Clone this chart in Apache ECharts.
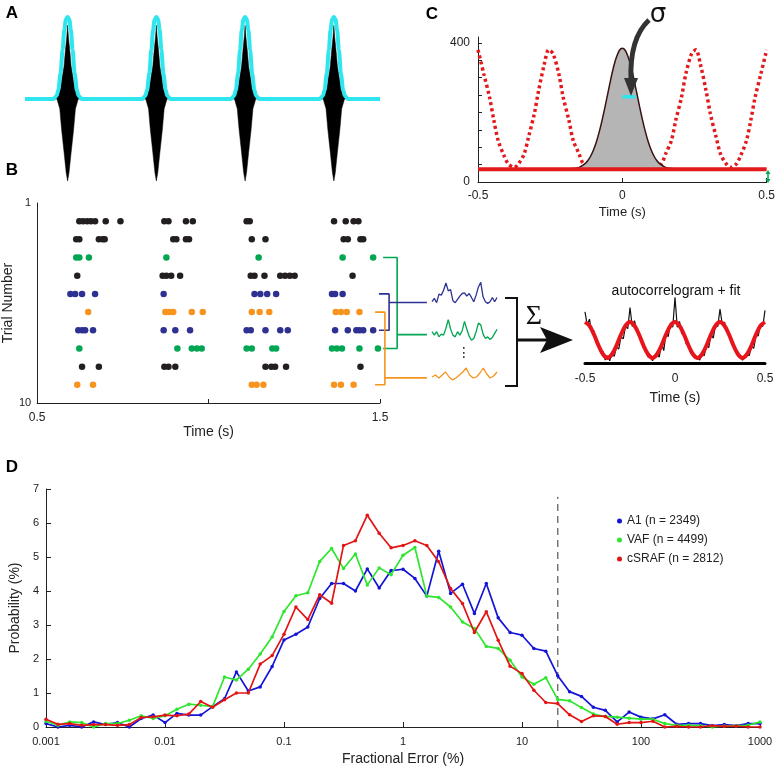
<!DOCTYPE html>
<html lang="en">
<head>
<meta charset="utf-8">
<title>Spike timing precision</title>
<script src="https://cdn.jsdelivr.net/npm/echarts@6/dist/echarts.min.js"></script>
<style>
  html, body { margin: 0; padding: 0; background: #fff; }
  #main { width: 778px; height: 768px; }
</style>
</head>
<body>
<div id="main"></div>
<script>
// ---------- A : spike waveforms + envelope ----------
var spikeTimesA = [0.12, 0.37, 0.62, 0.87];
// envelope shape around each spike (offset s, normalised height)
var cyanOff = [-0.04, -0.031, -0.026, -0.02, -0.014, -0.0094, -0.0048, 0, 0.0048, 0.0094, 0.014, 0.02, 0.026, 0.031, 0.04];
var cyanVal = [0, 0.04, 0.11, 0.31, 0.6, 0.84, 0.97, 1, 0.97, 0.84, 0.6, 0.31, 0.11, 0.04, 0];
var spikeUpOff = [-0.034, -0.026, -0.018, -0.01, -0.006, -0.0025, 0, 0.0025, 0.006, 0.01, 0.018, 0.026, 0.034];
var spikeUpVal = [0, 0.05, 0.19, 0.4, 0.6, 0.75, 0.9, 0.75, 0.6, 0.4, 0.19, 0.05, 0];
var spikeDnOff = [-0.03, -0.022, -0.017, -0.01, -0.004, 0, 0.004, 0.01, 0.017, 0.022, 0.03];
var spikeDnVal = [0, -0.12, -0.37, -0.65, -0.9, -1, -0.9, -0.65, -0.37, -0.12, 0];

// ---------- B : raster (spike times in s, one list per trial) ----------
var trialColor = ['k', 'k', 'g', 'k', 'b', 'o', 'b', 'g', 'k', 'o'];
var trialSpikes = [
  [0.623, 0.634, 0.646, 0.657, 0.669, 0.700, 0.743, 0.871, 0.883, 0.934, 0.954, 1.111, 1.120, 1.366, 1.400, 1.423, 1.437],
  [0.614, 0.623, 0.680, 0.691, 0.697, 0.897, 0.906, 0.934, 0.943, 1.126, 1.166, 1.394, 1.406, 1.443, 1.451],
  [0.614, 0.623, 0.651, 0.877, 1.146, 1.391, 1.480],
  [0.617, 0.866, 0.877, 0.891, 0.917, 1.123, 1.134, 1.163, 1.209, 1.223, 1.237, 1.251, 1.420],
  [0.597, 0.611, 0.631, 0.669, 0.869, 1.134, 1.151, 1.171, 1.197, 1.360, 1.369, 1.391],
  [0.649, 0.874, 0.886, 0.897, 0.951, 0.983, 1.126, 1.149, 1.177, 1.371, 1.386, 1.403, 1.440],
  [0.620, 0.631, 0.640, 0.663, 0.869, 0.903, 0.946, 1.111, 1.123, 1.166, 1.209, 1.231, 1.369, 1.406, 1.431, 1.440, 1.451, 1.480],
  [0.623, 0.909, 0.951, 0.966, 0.980, 1.111, 1.126, 1.186, 1.197, 1.360, 1.374, 1.389, 1.440, 1.494],
  [0.631, 0.680, 0.871, 0.883, 0.903, 1.166, 1.183, 1.194, 1.226, 1.443],
  [0.617, 0.663, 1.126, 1.140, 1.160, 1.366, 1.386, 1.423]
];
var groupColors = { k: '#231f20', g: '#00a651', b: '#2e3192', o: '#f7941d' };

// trial-grouping brackets (time, trial)
var bracketGreen = [[1.509, 3], [1.549, 3], [1.549, 8], [1.509, 8]];
var bracketBlue = [[1.497, 5], [1.526, 5], [1.526, 7], [1.497, 7]];
var bracketOrange = [[1.486, 6], [1.514, 6], [1.514, 10], [1.486, 10]];
var linkGreen = [[1.549, 7.24], [1.634, 7.24]];
var linkBlue = [[1.526, 5.47], [1.634, 5.47]];
var linkOrange = [[1.514, 9.62], [1.634, 9.62]];

// per-group PSTH-like traces
var traceBlue = [10, 20, 7, 33, 30, 45, 67, 43, 47, 13, 7, 17, 27, 35, 37, 27, 35, 23, 10, 30, 55, 69, 25, 10, 5, 10, 23, 10, 23];
var traceGreen = [30, 20, 30, 15, 23, 20, 40, 65, 38, 20, 15, 30, 20, 33, 60, 37, 17, 5, 10, 30, 55, 50, 23, 10, 15, 7, 13, 25, 37];
var traceOrange = [5, 7, 4, 7, 10, 5, 2, 4, 7, 10, 14, 7, 4, 5, 9, 14, 8, 4, 6, 10];

// summed autocorrelogram (step 0.0125 s) and its fit (step 0.025 s)
var acgValues = [
  70, 52, 60, 41, 44, 28, 27, 14, 16, 4, 10, 3, 14, 9, 22, 19, 36, 33, 50, 47,
  76, 50, 58, 44, 36, 35, 20, 19, 8, 11, 3, 9, 12, 8, 27, 17, 41, 36, 55, 49,
  90, 49, 57, 40, 42, 26, 25, 13, 14, 6, 9, 4, 13, 10, 25, 21, 39, 34, 52, 50,
  74, 53, 56, 44, 38, 32, 22, 18, 10, 9, 4, 8, 11, 10, 23, 20, 38, 37, 53, 50,
  72
];
var acgFit = [
  56, 51, 39, 24, 12, 7, 12, 24, 39, 51,
  56, 51, 39, 24, 12, 7, 12, 24, 39, 51,
  56, 51, 39, 24, 12, 7, 12, 24, 39, 51,
  56, 51, 39, 24, 12, 7, 12, 24, 39, 51,
  56
];

// ---------- C : fitted autocorrelogram ----------
var centralT = [-0.18, -0.15, -0.13, -0.12, -0.11, -0.10, -0.09, -0.08, -0.07, -0.06, -0.05, -0.04, -0.03, -0.02, -0.01, 0,
  0.01, 0.02, 0.03, 0.04, 0.05, 0.06, 0.07, 0.08, 0.09, 0.10, 0.11, 0.12, 0.13, 0.15, 0.18];
var centralV = [38, 42, 52, 61, 74, 92, 115, 144, 178, 216, 256, 296, 332, 360, 379, 385,
  379, 360, 332, 296, 256, 216, 178, 144, 115, 92, 74, 61, 52, 42, 38];
var sideT = [-0.50, -0.48, -0.46, -0.445, -0.43, -0.41, -0.395, -0.375, -0.36, -0.34, -0.325, -0.305, -0.29, -0.27, -0.255,
  -0.24, -0.22, -0.205, -0.185, -0.17, -0.15, -0.135, -0.11, 0.11, 0.135, 0.15, 0.17, 0.185, 0.205, 0.22, 0.24,
  0.255, 0.27, 0.29, 0.305, 0.325, 0.34, 0.36, 0.375, 0.395, 0.41, 0.43, 0.445, 0.46, 0.48, 0.50];
var sideV = [380, 311, 244, 177, 119, 76, 52, 42, 52, 81, 129, 196, 263, 340, 380,
  369, 311, 244, 177, 119, 81, 52, 37, 37, 52, 81, 119, 177, 244, 311, 369,
  380, 340, 263, 196, 129, 81, 52, 42, 52, 76, 119, 177, 244, 311, 380];
var baselineC = 37;
var sigmaBar = [[0, 245], [0.046, 245]];

// ---------- D : fractional error distributions (10 bins / decade, 0.001 .. 1000 %) ----------
var a1Prob = [0.10, 0.00, 0.05, 0.00, 0.15, 0.07, 0.13, 0.00, 0.25, 0.35, 0.13, 0.40, 0.35, 0.35, 0.60, 0.83, 1.62, 1.06, 1.18, 1.78,
  2.56, 2.73, 2.94, 3.78, 4.22, 4.22, 4.00, 4.65, 4.09, 4.60, 4.64, 4.37, 3.85, 5.17, 3.93, 4.20, 3.34, 4.22, 3.21, 2.78,
  2.70, 2.31, 2.23, 1.51, 1.04, 0.90, 0.58, 0.49, 0.15, 0.44, 0.29, 0.24, 0.36, 0.08, 0.10, 0.10, 0.04, 0.07, 0.04, 0.10, 0.10];
var vafProb = [0.17, 0.05, 0.15, 0.13, 0.00, 0.10, 0.10, 0.20, 0.33, 0.25, 0.33, 0.52, 0.67, 0.64, 0.60, 1.47, 1.38, 1.70, 2.15, 2.65,
  3.40, 3.86, 3.95, 4.87, 5.25, 4.66, 5.09, 4.18, 4.68, 4.48, 5.05, 5.28, 3.85, 3.81, 3.53, 3.09, 2.90, 2.37, 2.31, 1.96,
  1.47, 1.26, 1.45, 0.81, 0.77, 0.57, 0.38, 0.31, 0.29, 0.26, 0.23, 0.23, 0.10, 0.05, 0.05, 0.04, 0.00, 0.03, 0.04, 0.05, 0.15];
var csrafProb = [0.23, 0.08, 0.10, 0.05, 0.07, 0.07, 0.05, 0.07, 0.28, 0.30, 0.35, 0.33, 0.38, 0.75, 0.58, 0.80, 1.00, 1.00, 1.85, 2.10,
  2.73, 3.53, 3.16, 3.89, 3.64, 5.34, 5.48, 6.23, 5.70, 5.27, 5.34, 5.48, 5.34, 4.86, 4.07, 3.63, 2.78, 3.39, 2.55, 1.79,
  1.57, 1.08, 0.72, 0.69, 0.36, 0.16, 0.33, 0.31, 0.08, 0.13, 0.13, 0.17, 0.00, 0.02, 0.00, 0.00, 0.04, 0.02, 0.03, 0.00, 0.00];
var decadeLabels = ['0.001', '0.01', '0.1', '1', '10', '100', '1000'];
var seriesNamesD = ['A1 (n = 2349)', 'VAF (n = 4499)', 'cSRAF (n = 2812)'];
var criterionPct = 20;

// ---------- build ----------
var FONT = '"Liberation Sans", Arial, sans-serif';
var INK = '#222';
var chart = echarts.init(document.getElementById('main'));

function bumpTrain(offsets, values) {
  var pts = [[0, 0]];
  spikeTimesA.forEach(function (t0) {
    for (var i = 0; i < offsets.length; i++) pts.push([t0 + offsets[i], values[i]]);
  });
  pts.push([1, 0]);
  return pts;
}
function zip(xs, ys) {
  return xs.map(function (x, i) { return [x, ys[i]]; });
}
function hiddenAxis(idx, min, max, inverse) {
  return { type: 'value', gridIndex: idx, min: min, max: max, inverse: !!inverse, show: false };
}
function axisLine() {
  return { show: true, onZero: false, lineStyle: { color: INK } };
}

// raster points grouped by colour
var rasterSeries = ['k', 'g', 'b', 'o'].map(function (c) {
  var pts = [];
  trialSpikes.forEach(function (row, i) {
    if (trialColor[i] !== c) return;
    row.forEach(function (t) { pts.push([t, i + 1]); });
  });
  return {
    type: 'scatter', xAxisIndex: 1, yAxisIndex: 1, data: pts,
    symbolSize: 6.5, itemStyle: { color: groupColors[c], opacity: 1 }, silent: true
  };
});
// brackets live in an overlay grid (index 8) that shares the raster's scale but runs further right
function bracketLine(pts, color) {
  return {
    type: 'line', xAxisIndex: 8, yAxisIndex: 8, data: pts,
    showSymbol: false, lineStyle: { color: color, width: 1.6 }, silent: true
  };
}
function traceLine(idx, vals, color) {
  return {
    type: 'line', xAxisIndex: idx, yAxisIndex: idx, data: vals,
    showSymbol: false, lineStyle: { color: color, width: 1.3 }, silent: true
  };
}

var binExp = a1Prob.map(function (_, i) { return -3 + i / 10; }); // log10 bin centres
var colorsD = ['#1414d8', '#2ee62e', '#e31414'];
var dSeries = [a1Prob, vafProb, csrafProb].map(function (vals, s) {
  return {
    name: seriesNamesD[s], type: 'line', xAxisIndex: 7, yAxisIndex: 7,
    data: zip(binExp, vals), symbol: 'circle', symbolSize: 3.5,
    itemStyle: { color: colorsD[s] }, lineStyle: { color: colorsD[s], width: 1.7 }, z: 3 + s
  };
});
var critExp = Math.log10(criterionPct);

var acgT = acgValues.map(function (_, i) { return -0.5 + i * 0.0125; });
var fitT = acgFit.map(function (_, i) { return -0.5 + i * 0.025; });

var option = {
  animation: false,
  textStyle: { fontFamily: FONT, color: INK },
  grid: [
    { left: 25, top: 17, width: 355, height: 164 },   // 0 A
    { left: 30, top: 203, width: 350, height: 200 },  // 1 B raster
    { left: 478, top: 37, width: 290, height: 145 },  // 2 C
    { left: 432, top: 282, width: 65, height: 23 },   // 3 blue trace
    { left: 432, top: 318, width: 65, height: 24 },   // 4 green trace
    { left: 432, top: 366, width: 65, height: 16 },   // 5 orange trace
    { left: 585, top: 290, width: 180, height: 73 },  // 6 autocorrelogram
    { left: 38, top: 489, width: 722, height: 238 },  // 7 D
    { left: 30, top: 203, width: 400, height: 200 }   // 8 bracket overlay
  ],
  xAxis: [
    hiddenAxis(0, 0, 1),
    {
      type: 'value', gridIndex: 1, min: 0.5, max: 1.5, interval: 0.5,
      name: 'Time (s)', nameLocation: 'middle', nameGap: 13,
      nameTextStyle: { fontSize: 14, color: INK },
      axisLine: axisLine(),
      axisTick: { inside: true, length: 4, lineStyle: { color: INK } },
      axisLabel: { fontSize: 12, margin: 9, color: INK, formatter: function (v) { return v === 1 ? '' : v.toFixed(1); } },
      splitLine: { show: false }
    },
    {
      type: 'value', gridIndex: 2, min: -0.5, max: 0.5, interval: 0.5,
      name: 'Time (s)', nameLocation: 'middle', nameGap: 24,
      nameTextStyle: { fontSize: 13, color: INK },
      axisLine: axisLine(),
      axisTick: { inside: true, length: 4, lineStyle: { color: INK } },
      axisLabel: { fontSize: 12, margin: 8, color: INK },
      splitLine: { show: false }
    },
    { type: 'category', gridIndex: 3, show: false, boundaryGap: false, data: traceBlue.map(function (_, i) { return i; }) },
    { type: 'category', gridIndex: 4, show: false, boundaryGap: false, data: traceGreen.map(function (_, i) { return i; }) },
    { type: 'category', gridIndex: 5, show: false, boundaryGap: false, data: traceOrange.map(function (_, i) { return i; }) },
    {
      type: 'value', gridIndex: 6, min: -0.5, max: 0.5, interval: 0.5,
      name: 'Time (s)', nameLocation: 'middle', nameGap: 28,
      nameTextStyle: { fontSize: 14, color: INK },
      axisLine: { show: true, onZero: false, lineStyle: { color: '#000', width: 3 } },
      axisTick: { show: false },
      axisLabel: { fontSize: 12, margin: 10, color: INK },
      splitLine: { show: false }
    },
    {
      type: 'value', gridIndex: 7, min: -3, max: 3, interval: 1,
      name: 'Fractional Error (%)', nameLocation: 'middle', nameGap: 25,
      nameTextStyle: { fontSize: 14, color: INK },
      axisLine: axisLine(),
      axisTick: { inside: true, length: 5, lineStyle: { color: INK } },
      axisLabel: { fontSize: 11, margin: 9, color: INK, formatter: function (v) { return decadeLabels[Math.round(v) + 3]; } },
      splitLine: { show: false }
    },
    hiddenAxis(8, 0.5, 0.5 + 400 / 350)
  ],
  yAxis: [
    hiddenAxis(0, -1, 1),
    {
      type: 'value', gridIndex: 1, min: 0, max: 11, interval: 11, inverse: true,
      name: 'Trial Number', nameLocation: 'middle', nameGap: 15,
      nameTextStyle: { fontSize: 14, color: INK },
      axisLine: axisLine(),
      axisTick: { show: false },
      axisLabel: { fontSize: 11, margin: 6, color: INK, formatter: function (v) { return v === 0 ? '1' : '10'; } },
      splitLine: { show: false }
    },
    {
      type: 'value', gridIndex: 2, min: 0, max: 417, interval: 50,
      axisLine: axisLine(),
      axisTick: { inside: true, length: 4, lineStyle: { color: INK } },
      axisLabel: { fontSize: 12, margin: 8, color: INK, showMaxLabel: false, formatter: function (v) { return (v === 0 || v === 400) ? String(v) : ''; } },
      splitLine: { show: false }
    },
    hiddenAxis(3, 0, 70),
    hiddenAxis(4, 0, 70),
    hiddenAxis(5, 0, 16),
    hiddenAxis(6, 0, 100),
    {
      type: 'value', gridIndex: 7, min: 0, max: 7, interval: 1,
      name: 'Probability (%)', nameLocation: 'middle', nameGap: 20,
      nameTextStyle: { fontSize: 14, color: INK },
      axisLine: axisLine(),
      axisTick: { show: true, inside: true, length: 5, lineStyle: { color: INK } },
      axisLabel: { fontSize: 11, margin: 7, color: INK },
      splitLine: { show: false }
    },
    hiddenAxis(8, 0, 11, true)
  ],
  legend: {
    data: seriesNamesD, orient: 'vertical', left: 612, top: 510,
    icon: 'circle', itemWidth: 5, itemHeight: 5, itemGap: 7,
    textStyle: { fontSize: 12, color: INK, fontFamily: FONT }
  },
  series: [
    // A
    { type: 'line', xAxisIndex: 0, yAxisIndex: 0, data: bumpTrain(spikeUpOff, spikeUpVal), showSymbol: false,
      lineStyle: { width: 0.5, color: '#000' }, areaStyle: { color: '#000', opacity: 1 }, silent: true },
    { type: 'line', xAxisIndex: 0, yAxisIndex: 0, data: bumpTrain(spikeDnOff, spikeDnVal), showSymbol: false,
      lineStyle: { width: 0.5, color: '#000' }, areaStyle: { color: '#000', opacity: 1 }, silent: true },
    { type: 'line', xAxisIndex: 0, yAxisIndex: 0, data: bumpTrain(cyanOff, cyanVal), showSymbol: false,
      smooth: 0.3, smoothMonotone: 'x', lineStyle: { width: 4, color: '#2fe6ee' }, z: 5, silent: true }
  ].concat(rasterSeries, [
    bracketLine(bracketGreen, groupColors.g), bracketLine(linkGreen, groupColors.g),
    bracketLine(bracketBlue, groupColors.b), bracketLine(linkBlue, groupColors.b),
    bracketLine(bracketOrange, groupColors.o), bracketLine(linkOrange, groupColors.o),
    traceLine(3, traceBlue, groupColors.b),
    traceLine(4, traceGreen, groupColors.g),
    traceLine(5, traceOrange, groupColors.o),
    // autocorrelogram + fit
    { type: 'line', xAxisIndex: 6, yAxisIndex: 6, data: zip(acgT, acgValues), showSymbol: false,
      lineStyle: { color: '#111', width: 1.2 }, silent: true, z: 2 },
    { type: 'line', xAxisIndex: 6, yAxisIndex: 6, data: zip(fitT, acgFit), showSymbol: false, smooth: 0.4,
      lineStyle: { color: '#e8141b', width: 4 }, silent: true, z: 3 },
    // C
    { type: 'line', xAxisIndex: 2, yAxisIndex: 2, data: zip(sideT, sideV), showSymbol: false, smooth: 0.3,
      lineStyle: { color: '#e31a1c', width: 3.5, type: [3, 3] }, silent: true, z: 2 },
    { type: 'line', xAxisIndex: 2, yAxisIndex: 2, data: zip(centralT, centralV), showSymbol: false, smooth: 0.3,
      lineStyle: { color: '#3a1212', width: 1.5 }, areaStyle: { color: '#b5b5b5', opacity: 1, origin: baselineC }, silent: true, z: 3 },
    { type: 'line', xAxisIndex: 2, yAxisIndex: 2, data: [[-0.5, baselineC], [0.5, baselineC]], showSymbol: false,
      lineStyle: { color: '#e31a1c', width: 4 }, silent: true, z: 4 },
    { type: 'line', xAxisIndex: 2, yAxisIndex: 2, data: sigmaBar, showSymbol: false,
      lineStyle: { color: '#2fe6ee', width: 3.5 }, silent: true, z: 5 }
  ], dSeries, [
    { type: 'line', xAxisIndex: 7, yAxisIndex: 7, data: [[critExp, 0], [critExp, 6.77]], showSymbol: false,
      lineStyle: { color: '#333', width: 1, type: [7, 5] }, silent: true, z: 2 }
  ]),
  graphic: [
    { type: 'text', x: 12, y: 13, style: { text: 'A', font: 'bold 17px ' + FONT, fill: '#000', textAlign: 'center', textVerticalAlign: 'middle', align: 'center', verticalAlign: 'middle' } },
    { type: 'text', x: 12, y: 170, style: { text: 'B', font: 'bold 17px ' + FONT, fill: '#000', textAlign: 'center', textVerticalAlign: 'middle', align: 'center', verticalAlign: 'middle' } },
    { type: 'text', x: 432, y: 14, style: { text: 'C', font: 'bold 17px ' + FONT, fill: '#000', textAlign: 'center', textVerticalAlign: 'middle', align: 'center', verticalAlign: 'middle' } },
    { type: 'text', x: 12, y: 467, style: { text: 'D', font: 'bold 17px ' + FONT, fill: '#000', textAlign: 'center', textVerticalAlign: 'middle', align: 'center', verticalAlign: 'middle' } },
    // sigma annotation in C
    { type: 'text', x: 658, y: 15, style: { text: 'σ', font: '26px "DejaVu Sans", sans-serif', fill: '#111', textAlign: 'center', textVerticalAlign: 'middle', align: 'center', verticalAlign: 'middle' } },
    { type: 'bezierCurve', shape: { x1: 649, y1: 20, cpx1: 634, cpy1: 34, cpx2: 630, cpy2: 55, x2: 631, y2: 80 },
      style: { stroke: '#333', lineWidth: 5, fill: null }, z: 10 },
    { type: 'polygon', shape: { points: [[624, 78], [638, 78], [631, 96]] }, style: { fill: '#333' }, z: 10 },
    // green offset marker in C
    { type: 'line', shape: { x1: 768, y1: 172, x2: 768, y2: 181 }, style: { stroke: '#00a651', lineWidth: 1.5 }, z: 10 },
    { type: 'polygon', shape: { points: [[765.5, 174], [770.5, 174], [768, 170]] }, style: { fill: '#00a651' }, z: 10 },
    { type: 'polygon', shape: { points: [[765.5, 179], [770.5, 179], [768, 183]] }, style: { fill: '#00a651' }, z: 10 },
    // ellipsis between traces
    { type: 'text', x: 464, y: 353, style: { text: '⋮', font: '14px "DejaVu Sans"', fill: '#222', textAlign: 'center', textVerticalAlign: 'middle', align: 'center', verticalAlign: 'middle' } },
    // summation bracket and arrow
    { type: 'polyline', shape: { points: [[505, 298], [517, 298], [517, 386], [505, 386]] }, style: { stroke: '#111', lineWidth: 2, fill: null } },
    { type: 'text', x: 534, y: 317, style: { text: 'Σ', font: '28px "Liberation Serif", serif', fill: '#111', textAlign: 'center', textVerticalAlign: 'middle', align: 'center', verticalAlign: 'middle' } },
    { type: 'line', shape: { x1: 517, y1: 340, x2: 548, y2: 340 }, style: { stroke: '#111', lineWidth: 3 } },
    { type: 'polygon', shape: { points: [[540, 327], [573, 340], [540, 353], [547, 340]] }, style: { fill: '#111' } },
    { type: 'text', x: 676, y: 291, style: { text: 'autocorrelogram + fit', font: '14px ' + FONT, fill: '#111', textAlign: 'center', textVerticalAlign: 'middle', align: 'center', verticalAlign: 'middle' } }
  ]
};

chart.setOption(option);
</script>
</body>
</html>
